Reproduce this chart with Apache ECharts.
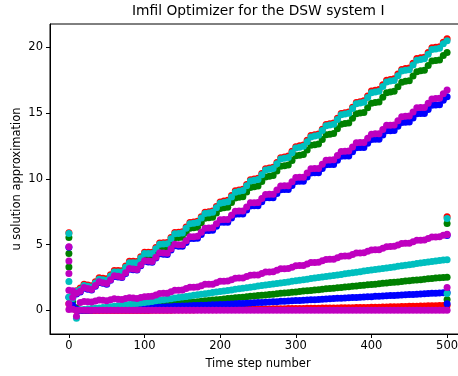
<!DOCTYPE html>
<html>
<head>
<meta charset="utf-8">
<script src="https://cdn.jsdelivr.net/npm/echarts@6/dist/echarts.min.js"></script>
<style>
  html, body { margin: 0; padding: 0; background: #fff; }
  #chart { width: 458px; height: 376px; }
</style>
</head>
<body>
<div id="chart"></div>
<script>
// sampled time steps (every 5th step)
var steps = [0, 5, 10, 15, 20, 25, 30, 35, 40, 45, 50, 55, 60, 65, 70, 75, 80, 85, 90, 95,
  100, 105, 110, 115, 120, 125, 130, 135, 140, 145, 150, 155, 160, 165, 170, 175, 180, 185, 190, 195,
  200, 205, 210, 215, 220, 225, 230, 235, 240, 245, 250, 255, 260, 265, 270, 275, 280, 285, 290, 295,
  300, 305, 310, 315, 320, 325, 330, 335, 340, 345, 350, 355, 360, 365, 370, 375, 380, 385, 390, 395,
  400, 405, 410, 415, 420, 425, 430, 435, 440, 445, 450, 455, 460, 465, 470, 475, 480, 485, 490, 495, 500];

var xTicks = [0, 100, 200, 300, 400, 500];
var yTicks = [0, 5, 10, 15, 20];

// upper (wavy) components
var redUp = [5.9, 1.35, 1.5, 1.70,
  2.00, 1.94, 1.88, 2.18, 2.48, 2.44, 2.40, 2.71, 3.03, 3.03, 3.02, 3.38, 3.73, 3.73, 3.72, 4.08,
  4.43, 4.43, 4.42, 4.78, 5.13, 5.15, 5.17, 5.55, 5.93, 5.95, 5.99, 6.34, 6.68, 6.73, 6.78, 7.12,
  7.47, 7.51, 7.56, 7.90, 8.25, 8.31, 8.37, 8.73, 9.09, 9.15, 9.21, 9.57, 9.93, 9.99, 10.05, 10.41,
  10.77, 10.83, 10.89, 11.25, 11.61, 11.67, 11.73, 12.09, 12.45, 12.51, 12.57, 12.93, 13.29, 13.35, 13.41, 13.77,
  14.13, 14.19, 14.25, 14.61, 14.97, 15.03, 15.09, 15.45, 15.81, 15.87, 15.93, 16.29, 16.68, 16.74, 16.79, 17.15,
  17.50, 17.56, 17.61, 17.97, 18.32, 18.38, 18.43, 18.79, 19.14, 19.20, 19.25, 19.61, 19.96, 20.00, 20.05, 20.39,
  20.65];
var greenUp = [5.55, 1.2, 1.4, 1.50,
  1.80, 1.74, 1.68, 1.98, 2.28, 2.24, 2.20, 2.51, 2.83, 2.82, 2.80, 3.14, 3.48, 3.47, 3.45, 3.79,
  4.13, 4.12, 4.10, 4.44, 4.78, 4.79, 4.80, 5.16, 5.53, 5.54, 5.57, 5.92, 6.25, 6.29, 6.33, 6.66,
  7.00, 7.04, 7.08, 7.41, 7.75, 7.80, 7.85, 8.20, 8.55, 8.60, 8.65, 9.00, 9.35, 9.40, 9.45, 9.80,
  10.15, 10.20, 10.25, 10.60, 10.95, 11.00, 11.05, 11.40, 11.75, 11.80, 11.85, 12.20, 12.55, 12.60, 12.65, 13.00,
  13.35, 13.40, 13.45, 13.80, 14.15, 14.20, 14.25, 14.60, 14.95, 15.00, 15.05, 15.40, 15.75, 15.81, 15.85, 16.21,
  16.55, 16.61, 16.65, 17.01, 17.35, 17.41, 17.45, 17.81, 18.15, 18.21, 18.25, 18.61, 18.95, 18.99, 19.03, 19.37,
  19.60];
var blueUp = [4.8, 0.95, 1.25, 1.40,
  1.69, 1.62, 1.55, 1.84, 2.13, 2.06, 2.00, 2.29, 2.58, 2.54, 2.50, 2.81, 3.13, 3.10, 3.07, 3.40,
  3.73, 3.69, 3.66, 3.98, 4.30, 4.27, 4.26, 4.59, 4.92, 4.88, 4.88, 5.17, 5.46, 5.46, 5.48, 5.78,
  6.08, 6.08, 6.10, 6.40, 6.70, 6.71, 6.71, 7.02, 7.32, 7.33, 7.33, 7.64, 7.94, 7.95, 7.95, 8.26,
  8.56, 8.57, 8.57, 8.88, 9.18, 9.19, 9.19, 9.50, 9.80, 9.82, 9.82, 10.14, 10.44, 10.46, 10.46, 10.78,
  11.08, 11.10, 11.10, 11.42, 11.72, 11.74, 11.74, 12.06, 12.36, 12.38, 12.38, 12.70, 13.00, 13.02, 13.02, 13.34,
  13.65, 13.66, 13.67, 13.99, 14.29, 14.31, 14.32, 14.63, 14.94, 14.96, 14.96, 15.28, 15.59, 15.62, 15.64, 15.98,
  16.25];
var cyanUp = [5.85, 1.3, 1.45, 1.60,
  1.90, 1.84, 1.78, 2.08, 2.38, 2.34, 2.30, 2.61, 2.93, 2.93, 2.92, 3.28, 3.63, 3.63, 3.62, 3.98,
  4.33, 4.33, 4.32, 4.68, 5.03, 5.05, 5.07, 5.45, 5.83, 5.85, 5.89, 6.24, 6.58, 6.63, 6.68, 7.02,
  7.37, 7.41, 7.46, 7.80, 8.15, 8.21, 8.27, 8.63, 8.99, 9.05, 9.11, 9.47, 9.83, 9.89, 9.95, 10.31,
  10.67, 10.73, 10.79, 11.15, 11.51, 11.57, 11.63, 11.99, 12.35, 12.41, 12.47, 12.83, 13.19, 13.25, 13.31, 13.67,
  14.03, 14.09, 14.15, 14.51, 14.87, 14.93, 14.99, 15.35, 15.71, 15.77, 15.83, 16.19, 16.55, 16.61, 16.66, 17.02,
  17.37, 17.43, 17.48, 17.84, 18.19, 18.25, 18.30, 18.66, 19.01, 19.07, 19.12, 19.48, 19.83, 19.87, 19.92, 20.26,
  20.50];
var magentaUp = [4.84, 1.0, 1.3, 1.45,
  1.74, 1.67, 1.60, 1.89, 2.18, 2.11, 2.05, 2.34, 2.63, 2.59, 2.55, 2.86, 3.18, 3.15, 3.12, 3.45,
  3.78, 3.75, 3.72, 4.05, 4.38, 4.36, 4.35, 4.69, 5.03, 5.00, 5.00, 5.30, 5.60, 5.61, 5.63, 5.94,
  6.25, 6.26, 6.28, 6.59, 6.90, 6.91, 6.92, 7.23, 7.54, 7.55, 7.56, 7.87, 8.18, 8.19, 8.20, 8.51,
  8.82, 8.83, 8.84, 9.15, 9.46, 9.47, 9.48, 9.79, 10.10, 10.12, 10.13, 10.45, 10.76, 10.78, 10.79, 11.11,
  11.42, 11.44, 11.45, 11.77, 12.08, 12.10, 12.11, 12.43, 12.74, 12.76, 12.77, 13.09, 13.40, 13.42, 13.43, 13.75,
  14.07, 14.08, 14.10, 14.42, 14.73, 14.75, 14.77, 15.08, 15.40, 15.42, 15.43, 15.75, 16.07, 16.10, 16.13, 16.47,
  16.75];

// lower (nearly straight) components
var redLow = [0.5, 0.2, 0.0, 0.00,
  0.00, 0.00, 0.00, 0.00, 0.00, 0.00, 0.00, 0.00, 0.00, 0.00, 0.00, 0.00, 0.00, 0.00, 0.00, 0.00,
  0.00, 0.00, 0.01, 0.01, 0.01, 0.02, 0.02, 0.02, 0.03, 0.03, 0.03, 0.04, 0.04, 0.04, 0.05, 0.05,
  0.05, 0.06, 0.06, 0.06, 0.07, 0.07, 0.07, 0.08, 0.08, 0.08, 0.09, 0.09, 0.09, 0.10, 0.10, 0.10,
  0.11, 0.11, 0.12, 0.12, 0.13, 0.13, 0.14, 0.14, 0.14, 0.15, 0.15, 0.16, 0.16, 0.17, 0.17, 0.18,
  0.18, 0.18, 0.19, 0.19, 0.20, 0.20, 0.21, 0.21, 0.22, 0.22, 0.23, 0.23, 0.24, 0.25, 0.25, 0.26,
  0.27, 0.28, 0.28, 0.29, 0.30, 0.30, 0.31, 0.32, 0.32, 0.33, 0.34, 0.35, 0.35, 0.36, 0.37, 0.37,
  0.38];
var greenLow = [3.3, 0.7, 0.2, 0.00,
  0.02, 0.03, 0.05, 0.07, 0.08, 0.10, 0.12, 0.13, 0.15, 0.16, 0.18, 0.20, 0.21, 0.23, 0.25, 0.26,
  0.28, 0.31, 0.34, 0.36, 0.39, 0.42, 0.45, 0.48, 0.50, 0.53, 0.56, 0.59, 0.62, 0.65, 0.67, 0.70,
  0.73, 0.76, 0.79, 0.81, 0.84, 0.87, 0.90, 0.93, 0.96, 0.98, 1.01, 1.04, 1.07, 1.10, 1.13, 1.15,
  1.18, 1.21, 1.24, 1.27, 1.30, 1.32, 1.35, 1.38, 1.41, 1.44, 1.47, 1.49, 1.52, 1.55, 1.58, 1.61,
  1.64, 1.66, 1.69, 1.72, 1.75, 1.78, 1.81, 1.83, 1.86, 1.89, 1.92, 1.95, 1.98, 2.00, 2.03, 2.06,
  2.09, 2.12, 2.15, 2.17, 2.20, 2.23, 2.26, 2.29, 2.32, 2.34, 2.37, 2.40, 2.43, 2.46, 2.49, 2.51,
  2.53];
var blueLow = [1.0, 0.4, 0.1, 0.00,
  0.01, 0.02, 0.04, 0.05, 0.06, 0.07, 0.09, 0.10, 0.11, 0.12, 0.13, 0.15, 0.16, 0.17, 0.18, 0.20,
  0.21, 0.22, 0.23, 0.24, 0.26, 0.27, 0.28, 0.29, 0.31, 0.32, 0.33, 0.34, 0.35, 0.37, 0.38, 0.39,
  0.40, 0.42, 0.43, 0.44, 0.45, 0.46, 0.48, 0.49, 0.50, 0.52, 0.53, 0.55, 0.56, 0.58, 0.60, 0.61,
  0.63, 0.64, 0.66, 0.67, 0.69, 0.70, 0.72, 0.73, 0.75, 0.76, 0.78, 0.79, 0.81, 0.82, 0.84, 0.85,
  0.87, 0.89, 0.90, 0.92, 0.93, 0.95, 0.96, 0.98, 0.99, 1.01, 1.02, 1.04, 1.05, 1.07, 1.08, 1.10,
  1.11, 1.13, 1.14, 1.16, 1.18, 1.19, 1.21, 1.22, 1.24, 1.25, 1.27, 1.28, 1.30, 1.31, 1.33, 1.34,
  1.36];
var cyanLow = [2.2, 0.9, -0.6, 0.05,
  0.08, 0.11, 0.14, 0.16, 0.19, 0.22, 0.25, 0.29, 0.32, 0.36, 0.39, 0.43, 0.46, 0.50, 0.53, 0.57,
  0.60, 0.64, 0.68, 0.73, 0.77, 0.81, 0.85, 0.89, 0.94, 0.98, 1.02, 1.06, 1.10, 1.15, 1.19, 1.23,
  1.27, 1.31, 1.36, 1.40, 1.44, 1.48, 1.52, 1.56, 1.61, 1.65, 1.69, 1.73, 1.77, 1.81, 1.85, 1.89,
  1.93, 1.97, 2.01, 2.05, 2.09, 2.13, 2.17, 2.21, 2.25, 2.30, 2.34, 2.38, 2.42, 2.46, 2.50, 2.54,
  2.58, 2.62, 2.66, 2.70, 2.74, 2.78, 2.82, 2.86, 2.91, 2.95, 2.99, 3.03, 3.07, 3.11, 3.15, 3.19,
  3.23, 3.27, 3.31, 3.35, 3.39, 3.43, 3.47, 3.52, 3.56, 3.60, 3.64, 3.68, 3.72, 3.76, 3.80, 3.84,
  3.86];
var magentaLow = [3.75, 1.5, -0.45, 0.60,
  0.68, 0.66, 0.64, 0.72, 0.80, 0.77, 0.74, 0.81, 0.88, 0.85, 0.83, 0.90, 0.97, 0.94, 0.91, 0.98,
  1.05, 1.06, 1.07, 1.18, 1.29, 1.30, 1.31, 1.42, 1.53, 1.54, 1.55, 1.66, 1.76, 1.77, 1.78, 1.88,
  1.99, 2.00, 2.00, 2.11, 2.21, 2.22, 2.23, 2.34, 2.45, 2.46, 2.47, 2.58, 2.68, 2.69, 2.70, 2.81,
  2.92, 2.93, 2.94, 3.05, 3.16, 3.17, 3.18, 3.29, 3.40, 3.41, 3.42, 3.53, 3.64, 3.65, 3.66, 3.77,
  3.88, 3.89, 3.90, 4.01, 4.12, 4.13, 4.14, 4.25, 4.36, 4.37, 4.38, 4.49, 4.60, 4.61, 4.62, 4.73,
  4.84, 4.86, 4.87, 4.98, 5.09, 5.10, 5.11, 5.22, 5.33, 5.34, 5.36, 5.47, 5.58, 5.59, 5.60, 5.71,
  5.75];
var magentaZero = [0.07, 0.10, 0.02, 0.02,
  0.02, 0.02, 0.02, 0.02, 0.02, 0.02, 0.02, 0.02, 0.02, 0.02, 0.02, 0.02, 0.02, 0.02, 0.02, 0.02,
  0.02, 0.02, 0.02, 0.02, 0.02, 0.02, 0.02, 0.02, 0.02, 0.02, 0.02, 0.02, 0.02, 0.02, 0.02, 0.02,
  0.02, 0.02, 0.02, 0.02, 0.02, 0.02, 0.02, 0.02, 0.02, 0.02, 0.02, 0.02, 0.02, 0.02, 0.02, 0.02,
  0.02, 0.02, 0.02, 0.02, 0.02, 0.02, 0.02, 0.02, 0.02, 0.02, 0.02, 0.02, 0.02, 0.02, 0.02, 0.02,
  0.02, 0.02, 0.02, 0.02, 0.02, 0.02, 0.02, 0.02, 0.02, 0.02, 0.02, 0.02, 0.02, 0.02, 0.02, 0.02,
  0.02, 0.02, 0.02, 0.02, 0.02, 0.02, 0.02, 0.02, 0.02, 0.02, 0.02, 0.02, 0.02, 0.02, 0.02, 0.02,
  0.02];

// extra values at the first and last step
var startGreen = [4.33];
var startCyan = [1.0];
var startMagenta = [2.8, 1.54, 0.5];
var endRed = [7.12];
var endGreen = [6.6, 0.84];
var endBlue = [5.7, 0.5];
var endCyan = [6.98, 1.29];
var endMagenta = [5.8, 1.75];

function track(values) {
  var out = [];
  for (var i = 0; i < steps.length && i < values.length; i++) out.push([steps[i], values[i]]);
  return out;
}

function column(t, values) {
  return values.map(function(v) { return [t, v]; });
}

var font = 'DejaVu Sans';
var ink = '#000';
var lastStep = steps[steps.length - 1];

var groups = [
  { color: '#ff0000', data: [].concat(track(redUp), track(redLow), column(lastStep, endRed)) },
  { color: '#008000', data: [].concat(track(greenUp), track(greenLow), column(0, startGreen), column(lastStep, endGreen)) },
  { color: '#0000ff', data: [].concat(track(blueUp), track(blueLow), column(lastStep, endBlue)) },
  { color: '#00bfbf', data: [].concat(track(cyanUp), track(cyanLow), column(0, startCyan), column(lastStep, endCyan)) },
  { color: '#bf00bf', data: [].concat(track(magentaUp), track(magentaLow), track(magentaZero), column(0, startMagenta), column(lastStep, endMagenta)) }
];

var chart = echarts.init(document.getElementById('chart'), null, { renderer: 'canvas' });

// the plot box runs a little past the right edge of the picture
chart.setOption({
  animation: false,
  backgroundColor: '#fff',
  title: {
    text: 'Imfil Optimizer for the DSW system I',
    left: 132, top: 4, padding: 0,
    textStyle: { fontFamily: font, fontSize: 13.8, fontWeight: 'normal', color: ink }
  },
  grid: {
    left: 50, top: 24, width: 416, height: 310, outerBoundsMode: 'none',
    show: true, borderColor: ink, borderWidth: 1
  },
  xAxis: {
    type: 'value', min: -25, max: 525,
    name: 'Time step number', nameLocation: 'middle', nameGap: 24, nameMoveOverlap: false,
    nameTextStyle: { fontFamily: font, fontSize: 11.5, color: ink },
    axisLine: { show: true, onZero: false, lineStyle: { color: ink, width: 1 } },
    axisTick: { show: true, inside: false, length: 4, customValues: xTicks, lineStyle: { color: ink } },
    axisLabel: { customValues: xTicks, margin: 6, fontFamily: font, fontSize: 11.5, color: ink },
    splitLine: { show: false }
  },
  yAxis: {
    type: 'value', min: -1.79, max: 21.77,
    name: 'u solution approximation', nameLocation: 'middle', nameGap: 27, nameRotate: 90,
    nameMoveOverlap: false,
    nameTextStyle: { fontFamily: font, fontSize: 11.5, color: ink },
    axisLine: { show: true, onZero: false, lineStyle: { color: ink, width: 1 } },
    axisTick: { show: true, inside: false, length: 4, customValues: yTicks, lineStyle: { color: ink } },
    axisLabel: { customValues: yTicks, margin: 7, fontFamily: font, fontSize: 11.5, color: ink },
    splitLine: { show: false }
  },
  series: groups.map(function(g) {
    return {
      type: 'scatter', symbol: 'circle', symbolSize: 7, silent: true,
      itemStyle: { color: g.color, opacity: 1 },
      data: g.data
    };
  })
});
</script>
</body>
</html>
